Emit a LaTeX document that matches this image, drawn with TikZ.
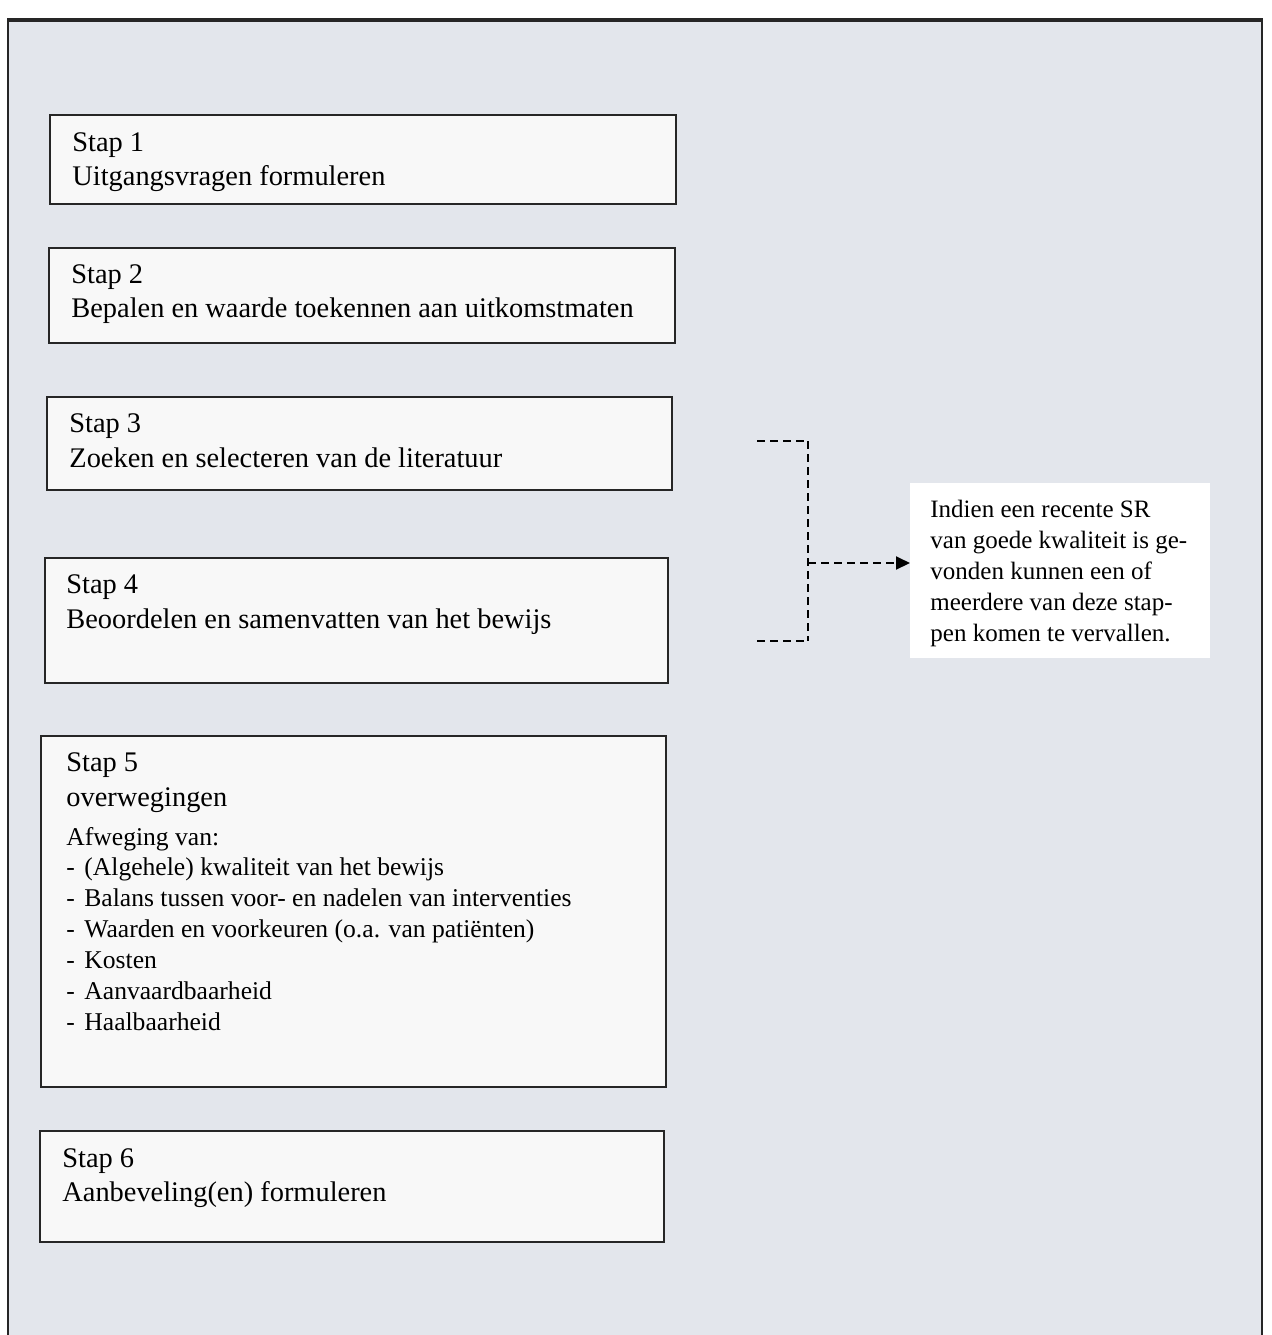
\documentclass[tikz,border=0pt]{standalone}
\usepackage{fontspec}
\setmainfont{Liberation Serif}
\usetikzlibrary{arrows.meta}
\definecolor{bgpaper}{HTML}{E3E6EC}
\definecolor{boxfill}{HTML}{F8F8F8}
\begin{document}
\begin{tikzpicture}[x=0.5pt,y=-0.5pt,
  stepbox/.style={draw=black!85, line width=1pt, fill=boxfill, anchor=north west, inner sep=0pt, outer sep=0pt},
  bigtxt/.style={anchor=base west, inner sep=0pt, font=\fontsize{14.2}{17}\selectfont},
  smalltxt/.style={anchor=base west, inner sep=0pt, font=\fontsize{12.8}{15}\selectfont},
  srtxt/.style={anchor=base west, inner sep=0pt, font=\fontsize{12.5}{15}\selectfont},
  dashline/.style={line width=1pt, dash pattern=on 4pt off 2.5pt}]
% page and frame
\useasboundingbox (0,0) rectangle (1272,1335);
\fill[white] (0,0) rectangle (1272,1335);
\fill[bgpaper] (8,20) rectangle (1262,1345);
\draw[line width=1.2pt, black!85] (8,1345) -- (8,20);
\draw[line width=1.2pt, black!85] (1262,20) -- (1262,1345);
\draw[line width=1.8pt, black!85] (7,20) -- (1263,20);
% step boxes
\node[stepbox, minimum width=313pt, minimum height=44.5pt] (b1) at (50,115) {};
\node[stepbox, minimum width=313pt, minimum height=47.5pt] (b2) at (49,248) {};
\node[stepbox, minimum width=312.5pt, minimum height=46.5pt] (b3) at (47,397) {};
\node[stepbox, minimum width=311.5pt, minimum height=62.5pt] (b4) at (45,558) {};
\node[stepbox, minimum width=312.5pt, minimum height=175.5pt] (b5) at (41,736) {};
\node[stepbox, minimum width=312pt, minimum height=55.5pt] (b6) at (40,1131) {};
% texts
\node[bigtxt] (t1a) at (72,151) {Stap 1};
\node[bigtxt] (t1b) at (72,185) {Uitgangsvragen formuleren};
\node[bigtxt] (t2a) at (71,283) {Stap 2};
\node[bigtxt] (t2b) at (71,317) {Bepalen en waarde toekennen aan uitkomstmaten};
\node[bigtxt] (t3a) at (69,432) {Stap 3};
\node[bigtxt] (t3b) at (69,467) {Zoeken en selecteren van de literatuur};
\node[bigtxt] (t4a) at (66,593) {Stap 4};
\node[bigtxt] (t4b) at (66,628) {Beoordelen en samenvatten van het bewijs};
\node[bigtxt] (t5a) at (66,771) {Stap 5};
\node[bigtxt] (t5b) at (66,806) {overwegingen};
\node[smalltxt] (t5c) at (66,845) {Afweging van:};
\foreach \y/\txt [count=\i] in {875/{(Algehele) kwaliteit van het bewijs},
  906/{Balans tussen voor- en nadelen van interventies},
  937/{Waarden en voorkeuren (o.a. van patiënten)},
  968/{Kosten},
  999/{Aanvaardbaarheid},
  1030/{Haalbaarheid}}{
  \node[smalltxt] (d\i) at (66,\y) {-};
  \node[smalltxt] (l\i) at (84,\y) {\txt};
}
\node[bigtxt] (t6a) at (62,1167) {Stap 6};
\node[bigtxt] (t6b) at (62,1201) {Aanbeveling(en) formuleren};
% side note
\node[fill=white, anchor=north west, minimum width=150pt, minimum height=87.5pt, inner sep=0pt] (sr) at (910,483) {};
\node[srtxt] (sr1) at (930,517) {Indien een recente SR};
\node[srtxt] (sr2) at (930,548) {van goede kwaliteit is ge-};
\node[srtxt] (sr3) at (930,579) {vonden kunnen een of};
\node[srtxt] (sr4) at (930,610) {meerdere van deze stap-};
\node[srtxt] (sr5) at (930,641) {pen komen te vervallen.};
% bracket
\coordinate (btop) at (757,441);
\coordinate (bbot) at (757,641);
\coordinate (bcorner1) at (808,441);
\coordinate (bcorner2) at (808,641);
\coordinate (bmid) at (808,563);
\draw[dashline] (btop) -- (bcorner1);
\draw[dashline] (bbot) -- (bcorner2);
\draw[dashline] (bcorner1) -- (bcorner2);
\draw[dashline, -{Triangle[length=7pt,width=6.5pt]}] (bmid) -- (bmid -| sr.west);
\end{tikzpicture}
\end{document}
